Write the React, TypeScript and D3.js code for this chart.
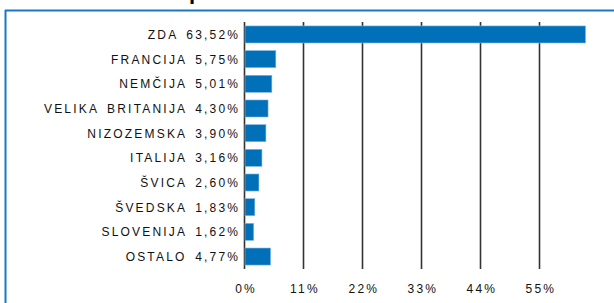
import React from "react";
import * as d3 from "d3";

const categories = ["ZDA", "FRANCIJA", "NEMČIJA", "VELIKA BRITANIJA", "NIZOZEMSKA", "ITALIJA", "ŠVICA", "ŠVEDSKA", "SLOVENIJA", "OSTALO"];
const values = [63.52, 5.75, 5.01, 4.30, 3.90, 3.16, 2.60, 1.83, 1.62, 4.77];
const valueLabels = ["63,52%", "5,75%", "5,01%", "4,30%", "3,90%", "3,16%", "2,60%", "1,83%", "1,62%", "4,77%"];
const ticks = [0, 11, 22, 33, 44, 55];

const W = 614, H = 303;

export default function App() {
  const x = d3.scaleLinear().domain([0, 63.52]).range([244, 584.5]);
  const y = d3.scaleBand<string>().domain(categories).range([22, 269]).paddingInner(0.31).paddingOuter(0.16);
  const font = "'Liberation Sans', Arial, sans-serif";
  const ls = 2.2;
  return (
    <svg width={W} height={H} style={{ position: "absolute", left: 0, top: 0, background: "#fff" }}>
      <text x={189} y={-1} fontFamily={font} fontSize={22} fontWeight="bold" fill="#000">p</text>
      <line x1={5} x2={W} y1={10.5} y2={10.5} stroke="#1878c8" strokeWidth={2} />
      <line x1={5.5} x2={5.5} y1={10} y2={H} stroke="#1878c8" strokeWidth={2} />
      {ticks.map((t) => (
        <g key={t}>
          <line x1={Math.round(x(t)) + 0.5} x2={Math.round(x(t)) + 0.5} y1={22} y2={269} stroke="#333" strokeWidth={1.6} />
          <text x={x(t) + 2} y={293} textAnchor="middle" fontFamily={font} fontSize={12} letterSpacing={ls} fill="#111">{t + "%"}</text>
        </g>
      ))}
      {categories.map((c, i) => (
        <g key={c}>
          <rect x={x(0) + 1} y={y(c)!} width={x(values[i]) - x(0)} height={y.bandwidth()} fill="#0070b8" stroke="#7fb6e0" strokeWidth={0.6} />
          <text x={238 + ls} y={y(c)! + y.bandwidth() / 2 + 4.5} textAnchor="end" fontFamily={font} fontSize={12} letterSpacing={ls} wordSpacing={3} fill="#111">
            {c + " " + valueLabels[i]}
          </text>
        </g>
      ))}
    </svg>
  );
}
